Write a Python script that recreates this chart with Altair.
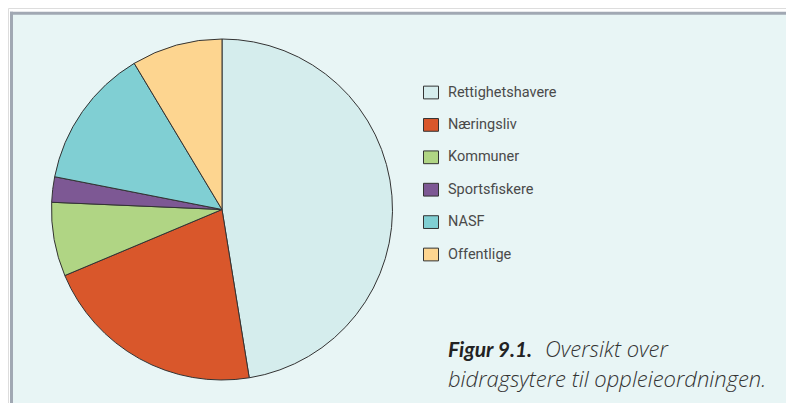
import altair as alt
import pandas as pd

categories = ["Rettighetshavere", "Næringsliv", "Kommuner", "Sportsfiskere", "NASF", "Offentlige"]
shares = [47.4, 21.2, 7.0, 2.4, 13.3, 8.6]
colors = ["#d5eded", "#d9572b", "#b0d584", "#7d5894", "#80cfd3", "#fdd590"]
caption_bold = ["Figur 9.1."]
caption_line1 = ["Oversikt over"]
caption_line2 = ["bidragsytere til oppleieordningen."]

pie_df = pd.DataFrame({"kategori": categories, "andel": shares, "rekkefolge": list(range(len(categories)))})

W, H = 778, 395
one = pd.DataFrame({"a": [0]})

panel = alt.Chart(one).mark_rect(fill="#e8f5f5", strokeWidth=0).encode(
    x=alt.value(2), x2=alt.value(W + 20), y=alt.value(4), y2=alt.value(H + 40)
)
border_left = alt.Chart(one).mark_rule(color="#a1a8b3", strokeWidth=3).encode(
    x=alt.value(3.5), y=alt.value(3.7), y2=alt.value(H + 40)
)
border_top = alt.Chart(one).mark_rule(color="#a1a8b3", strokeWidth=3).encode(
    x=alt.value(2), x2=alt.value(W + 20), y=alt.value(5.2)
)

pie = alt.Chart(pie_df).mark_arc(
    radius=170.5, stroke="#333333", strokeWidth=1
).encode(
    theta=alt.Theta("andel:Q", stack=True),
    color=alt.Color(
        "kategori:N",
        scale=alt.Scale(domain=categories, range=colors),
        legend=alt.Legend(
            title=None,
            orient="none",
            legendX=415,
            legendY=76.5,
            symbolType="M-1,-0.85H1V0.85H-1Z",
            symbolSize=225,
            symbolStrokeColor="#333333",
            symbolStrokeWidth=1,
            symbolOpacity=1,
            rowPadding=14.4,
            labelOffset=9,
            labelFont="Roboto, sans-serif",
            labelFontSize=14.5,
            labelColor="#4a4a4a",
            labelLimit=300,
        ),
    ),
    order=alt.Order("rekkefolge:Q"),
    x=alt.value(214),
    y=alt.value(201.5),
)

t_bold = alt.Chart(pd.DataFrame({"t": caption_bold})).mark_text(
    align="left", baseline="alphabetic", font="Lato, sans-serif", fontSize=21,
    fontStyle="italic", fontWeight="bold", color="#222222"
).encode(text="t:N", x=alt.value(440), y=alt.value(349))

t_l1 = alt.Chart(pd.DataFrame({"t": caption_line1})).mark_text(
    align="left", baseline="alphabetic", font="'Open Sans', Lato, sans-serif", fontSize=22,
    fontStyle="italic", fontWeight=300, color="#333333"
).encode(text="t:N", x=alt.value(537), y=alt.value(349))

t_l2 = alt.Chart(pd.DataFrame({"t": caption_line2})).mark_text(
    align="left", baseline="alphabetic", font="'Open Sans', Lato, sans-serif", fontSize=22,
    fontStyle="italic", fontWeight=300, color="#333333"
).encode(text="t:N", x=alt.value(440), y=alt.value(379))

chart = alt.layer(panel, border_left, border_top, pie, t_bold, t_l1, t_l2).properties(
    width=W, height=H, autosize=alt.AutoSizeParams(type="none"), padding=0
).configure_view(stroke="transparent", strokeWidth=0).configure(background="white")

chart.save("out.html", embed_options={"renderer": "svg", "actions": False})
